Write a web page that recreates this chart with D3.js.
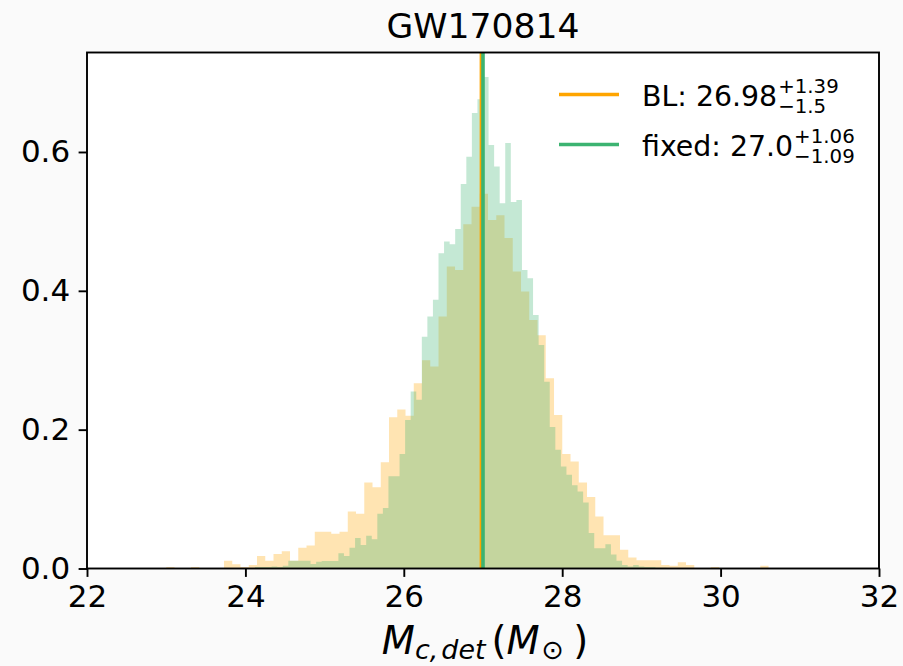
<!DOCTYPE html>
<html>
<head>
<meta charset="utf-8">
<script src="https://cdn.jsdelivr.net/npm/d3@7"></script>
<style>
  body { margin: 0; background: #fafafa; }
  text { font-family: "DejaVu Sans", sans-serif; fill: #000; }
</style>
</head>
<body>
<script>
// Chart values
const title = "GW170814";

// BL posterior histogram (density per bin)
const blStart = 22.8965, blWidth = 0.10417;
const blDensity = [
  0, 0.002, 0, 0, 0.002, 0, 0, 0,
  0.011, 0.006, 0.002, 0.005, 0.018, 0.011, 0.021, 0.025, 0.011, 0.030, 0.033,
  0.053, 0.053, 0.050, 0.053, 0.082, 0.079, 0.124, 0.117, 0.153, 0.218, 0.229, 0.220,
  0.267, 0.300, 0.291, 0.363, 0.435, 0.430, 0.496, 0.521, 0.540, 0.502, 0.509, 0.476, 0.428, 0.399, 0.358,
  0.336, 0.274, 0.221, 0.165, 0.154, 0.124, 0.103, 0.075, 0.048, 0.048, 0.027, 0.016, 0.012, 0.012, 0.012,
  0.005, 0.004, 0.009, 0.005, 0, 0, 0.002, 0, 0, 0, 0, 0, 0.004
];

// fixed posterior histogram (density per bin)
const fixedStart = 24.05034, fixedWidth = 0.07023;
const fixedDensity = [
  0, 0.002, 0.002, 0.002, 0.003, 0.002, 0.004, 0.011, 0.011, 0.011, 0.011, 0.0065, 0.0098, 0.0108, 0.0108, 0.0108,
  0.022, 0.018, 0.030, 0.044, 0.034, 0.047, 0.042, 0.079, 0.087, 0.133, 0.133, 0.165, 0.214, 0.255, 0.243,
  0.334, 0.363, 0.387, 0.454, 0.471, 0.467, 0.489, 0.554, 0.593, 0.656, 0.676,
  0.708, 0.610, 0.579, 0.526, 0.613, 0.528, 0.531, 0.430, 0.418, 0.365,
  0.322, 0.269, 0.204, 0.171, 0.147, 0.135, 0.120, 0.111, 0.095, 0.051, 0.029, 0.029, 0.035, 0.020,
  0.011, 0.005, 0.003, 0.005, 0.003, 0.002, 0.002, 0.001, 0.001
];

const seriesNames = ["BL", "fixed"];
const seriesColors = ["#ffa500", "#3cb371"];
const medians = ["26.98", "27.0"];
const upperErr = ["+1.39", "+1.06"];
const lowerErr = ["\u22121.5", "\u22121.09"];

const xTicks = [22, 24, 26, 28, 30, 32];
const yTicks = [0, 0.2, 0.4, 0.6];

// Dimensions
let width = 903,
    height = 666;
let margin = { top: 52.5, bottom: 97.5, left: 87, right: 24 };

let svg = d3.select("body")
  .append("svg")
  .attr("width", width)
  .attr("height", height)
  .style("display", "block")
  .style("background", "#fafafa");

let x = d3.scaleLinear()
  .domain([22, 32])
  .range([margin.left, width - margin.right]);

let y = d3.scaleLinear()
  .domain([0, 0.7433])
  .range([height - margin.bottom, margin.top]);

// axes background
svg.append("rect")
  .attr("x", margin.left)
  .attr("y", margin.top)
  .attr("width", width - margin.left - margin.right)
  .attr("height", height - margin.top - margin.bottom)
  .attr("fill", "#ffffff");

svg.append("clipPath").attr("id", "plot-clip")
  .append("rect")
  .attr("x", margin.left)
  .attr("y", margin.top)
  .attr("width", width - margin.left - margin.right)
  .attr("height", height - margin.top - margin.bottom);

const plot = svg.append("g").attr("clip-path", "url(#plot-clip)");

// turn densities into step points (with the closing edge)
function steps(start, w, vals) {
  let pts = vals.map((v, i) => ({ e: start + i * w, v: v }));
  pts.push({ e: start + vals.length * w, v: vals[vals.length - 1] });
  return pts;
}

let area = d3.area()
  .x(d => x(d.e))
  .y0(y(0))
  .y1(d => y(d.v))
  .curve(d3.curveStepAfter);

// BL first, fixed on top
plot.append("path")
  .datum(steps(blStart, blWidth, blDensity))
  .attr("d", area)
  .attr("fill", seriesColors[0])
  .attr("fill-opacity", 0.3);

plot.append("path")
  .datum(steps(fixedStart, fixedWidth, fixedDensity))
  .attr("d", area)
  .attr("fill", seriesColors[1])
  .attr("fill-opacity", 0.3);

// median lines
medians.forEach((m, i) => {
  plot.append("line")
    .attr("x1", x(+m)).attr("x2", x(+m))
    .attr("y1", margin.top).attr("y2", height - margin.bottom)
    .attr("stroke", seriesColors[i])
    .attr("stroke-width", 3.6);
});

// axes
let xaxis = svg.append("g")
  .attr("transform", `translate(0,${height - margin.bottom})`)
  .call(d3.axisBottom(x).tickValues(xTicks).tickFormat(d3.format("d"))
    .tickSize(8.4).tickPadding(8.4));

let yaxis = svg.append("g")
  .attr("transform", `translate(${margin.left},0)`)
  .call(d3.axisLeft(y).tickValues(yTicks).tickFormat(d3.format(".1f"))
    .tickSize(8.4).tickPadding(8.4));

[xaxis, yaxis].forEach(a => {
  a.select(".domain").remove();
  a.selectAll(".tick line").attr("stroke", "#000").attr("stroke-width", 1.9);
  a.selectAll(".tick text")
    .style("font-family", "DejaVu Sans")
    .style("font-size", "31px")
    .attr("fill", "#000");
});

// spines
svg.append("rect")
  .attr("x", margin.left)
  .attr("y", margin.top)
  .attr("width", width - margin.left - margin.right)
  .attr("height", height - margin.top - margin.bottom)
  .attr("fill", "none")
  .attr("stroke", "#000")
  .attr("stroke-width", 1.9);

// title
svg.append("text")
  .attr("x", (margin.left + width - margin.right) / 2)
  .attr("y", 38)
  .attr("text-anchor", "middle")
  .style("font-size", "34.6px")
  .text(title);

// x label: M_{c,det} (M_sun)
let xl = svg.append("text")
  .attr("x", (margin.left + width - margin.right) / 2 + 2)
  .attr("y", 654)
  .attr("text-anchor", "middle")
  .style("font-size", "38.4px");
xl.append("tspan").attr("font-style", "italic").text("M");
xl.append("tspan").attr("font-style", "italic").attr("dy", 5).style("font-size", "26.9px").text("c,");
xl.append("tspan").attr("font-style", "italic").attr("dx", 3).style("font-size", "26.9px").text("det");
xl.append("tspan").attr("dy", -5).attr("dx", 6).text("(");
xl.append("tspan").attr("font-style", "italic").text("M");
xl.append("tspan").attr("dy", 5).attr("dx", 2).style("font-size", "26.9px").text("\u2299");
xl.append("tspan").attr("dy", -5).attr("dx", 9).text(")");

// legend
const legend = svg.append("g");
const legendRows = [96, 146];
seriesNames.forEach((name, i) => {
  let ly = legendRows[i];
  legend.append("line")
    .attr("x1", 559).attr("x2", 619)
    .attr("y1", ly - 1.5).attr("y2", ly - 1.5)
    .attr("stroke", seriesColors[i])
    .attr("stroke-width", 3.6);

  let main = legend.append("text")
    .attr("x", 642)
    .attr("y", ly + 9.5)
    .style("font-size", "28.4px")
    .text(`${name}: ${medians[i]}`);
  let w = main.node().getComputedTextLength();

  legend.append("text")
    .attr("x", 642 + w + 1)
    .attr("y", ly - 3)
    .style("font-size", "19.8px")
    .text(upperErr[i]);

  legend.append("text")
    .attr("x", 642 + w + 1)
    .attr("y", ly + 16.5)
    .style("font-size", "19.8px")
    .text(lowerErr[i]);
});
</script>
</body>
</html>
